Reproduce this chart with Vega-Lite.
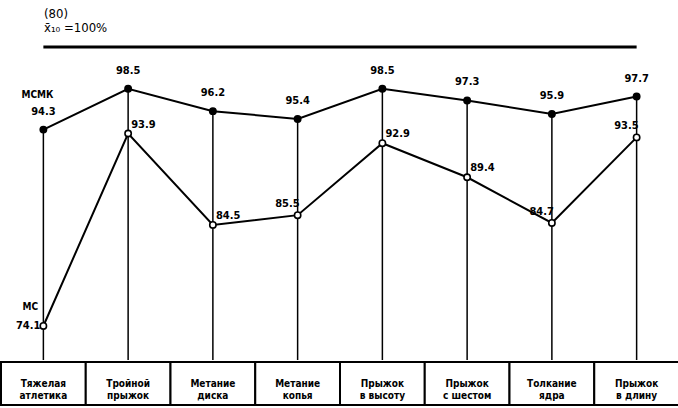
{
  "$schema": "https://vega.github.io/schema/vega-lite/v6.json",
  "padding": {"top": 8, "left": 0, "right": 0, "bottom": 6},
  "background": "white",
  "title": {
    "text": ["    (80)", "x̄₁₀ =100%"],
    "anchor": "start",
    "dx": 44,
    "fontSize": 13,
    "fontWeight": "normal",
    "font": "DejaVu Sans Condensed, Liberation Sans Narrow, sans-serif",
    "lineHeight": 14,
    "offset": 6,
    "color": "black"
  },
  "config": {
    "view": {"stroke": null},
    "font": "DejaVu Sans Condensed, Liberation Sans Narrow, sans-serif"
  },
  "datasets": {
    "scores": [
      {"event": "Тяжелая\nатлетика", "series": "МСМК", "value": 94.3},
      {"event": "Тройной\nпрыжок", "series": "МСМК", "value": 98.5},
      {"event": "Метание\nдиска", "series": "МСМК", "value": 96.2},
      {"event": "Метание\nкопья", "series": "МСМК", "value": 95.4},
      {"event": "Прыжок\nв высоту", "series": "МСМК", "value": 98.5},
      {"event": "Прыжок\nс шестом", "series": "МСМК", "value": 97.3},
      {"event": "Толкание\nядра", "series": "МСМК", "value": 95.9},
      {"event": "Прыжок\nв длину", "series": "МСМК", "value": 97.7},
      {"event": "Тяжелая\nатлетика", "series": "МС", "value": 74.1},
      {"event": "Тройной\nпрыжок", "series": "МС", "value": 93.9},
      {"event": "Метание\nдиска", "series": "МС", "value": 84.5},
      {"event": "Метание\nкопья", "series": "МС", "value": 85.5},
      {"event": "Прыжок\nв высоту", "series": "МС", "value": 92.9},
      {"event": "Прыжок\nс шестом", "series": "МС", "value": 89.4},
      {"event": "Толкание\nядра", "series": "МС", "value": 84.7},
      {"event": "Прыжок\nв длину", "series": "МС", "value": 93.5}
    ]
  },
  "spacing": 0,
  "vconcat": [
    {
      "width": 678,
      "height": 313,
      "data": {"name": "scores"},
      "encoding": {
        "x": {"field": "event", "type": "nominal", "sort": null, "axis": null,
              "scale": {"paddingInner": 0, "paddingOuter": 0}},
        "y": {"field": "value", "type": "quantitative", "axis": null,
              "scale": {"domain": [70.6, 102.8], "zero": false, "nice": false}}
      },
      "layer": [
        {
          "transform": [{"filter": "datum.series === 'МСМК'"}],
          "mark": {"type": "line", "strokeWidth": 3, "color": "black", "clip": false},
          "encoding": {"y": {"datum": 102.8}}
        },
        {
          "transform": [{"filter": "datum.series === 'МСМК'"}],
          "mark": {"type": "rule", "strokeWidth": 1.5, "color": "black"},
          "encoding": {"y2": {"datum": 70.6}}
        },
        {
          "mark": {"type": "line", "strokeWidth": 2, "color": "black"},
          "encoding": {"detail": {"field": "series"}}
        },
        {
          "mark": {"type": "point", "size": 40, "strokeWidth": 1.6, "opacity": 1, "shape": "circle"},
          "encoding": {
            "fill": {"field": "series", "type": "nominal", "legend": null,
                     "scale": {"domain": ["МСМК", "МС"], "range": ["black", "white"]}},
            "stroke": {"value": "black"}
          }
        },
        {
          "transform": [{"filter": "datum.series === 'МСМК'"}],
          "mark": {"type": "text", "dy": -13, "fontSize": 11, "fontWeight": "bold", "baseline": "bottom", "dx": 0, "color": "black"},
          "encoding": {"text": {"field": "value", "type": "quantitative", "format": ".1f"}}
        },
        {
          "transform": [{"filter": "datum.series === 'МС' && indexof(['Тройной\\nпрыжок', 'Метание\\nдиска', 'Прыжок\\nв высоту', 'Прыжок\\nс шестом'], datum.event) >= 0"}],
          "mark": {"type": "text", "align": "left", "dx": 3, "dy": -4, "fontSize": 11, "fontWeight": "bold", "baseline": "bottom", "color": "black"},
          "encoding": {"text": {"field": "value", "type": "quantitative", "format": ".1f"}}
        },
        {
          "transform": [{"filter": "datum.series === 'МС' && indexof(['Метание\\nкопья', 'Толкание\\nядра', 'Прыжок\\nв длину'], datum.event) >= 0"}],
          "mark": {"type": "text", "align": "right", "dx": 2, "dy": -6, "fontSize": 11, "fontWeight": "bold", "baseline": "bottom", "color": "black"},
          "encoding": {"text": {"field": "value", "type": "quantitative", "format": ".1f"}}
        },
        {
          "transform": [{"filter": "datum.series === 'МС' && datum.event === 'Тяжелая\\nатлетика'"}],
          "mark": {"type": "text", "align": "right", "dx": -3, "dy": 0, "fontSize": 11, "fontWeight": "bold", "baseline": "middle", "color": "black"},
          "encoding": {"text": {"field": "value", "type": "quantitative", "format": ".1f"}}
        },
        {
          "transform": [{"filter": "datum.series === 'МСМК' && datum.event === 'Тяжелая\\nатлетика'"}],
          "mark": {"type": "text", "align": "center", "dx": -6, "dy": -30, "fontSize": 10, "fontWeight": "bold", "baseline": "bottom", "color": "black"},
          "encoding": {"text": {"field": "series"}}
        },
        {
          "transform": [{"filter": "datum.series === 'МС' && datum.event === 'Тяжелая\\nатлетика'"}],
          "mark": {"type": "text", "align": "center", "dx": -13, "dy": -14, "fontSize": 10, "fontWeight": "bold", "baseline": "bottom", "color": "black"},
          "encoding": {"text": {"field": "series"}}
        }
      ]
    },
    {
      "width": 678,
      "height": 43,
      "data": {"name": "scores"},
      "transform": [{"filter": "datum.series === 'МСМК'"}],
      "encoding": {
        "x": {"field": "event", "type": "nominal", "sort": null, "axis": null,
              "scale": {"paddingInner": 0, "paddingOuter": 0}}
      },
      "layer": [
        {
          "mark": {"type": "rect", "fill": "white", "stroke": "black", "strokeWidth": 2}
        },
        {
          "mark": {"type": "text", "lineBreak": "\n", "fontSize": 10, "fontWeight": "bold", "lineHeight": 12, "baseline": "middle", "color": "black"},
          "encoding": {"text": {"field": "event"}}
        }
      ]
    }
  ]
}
